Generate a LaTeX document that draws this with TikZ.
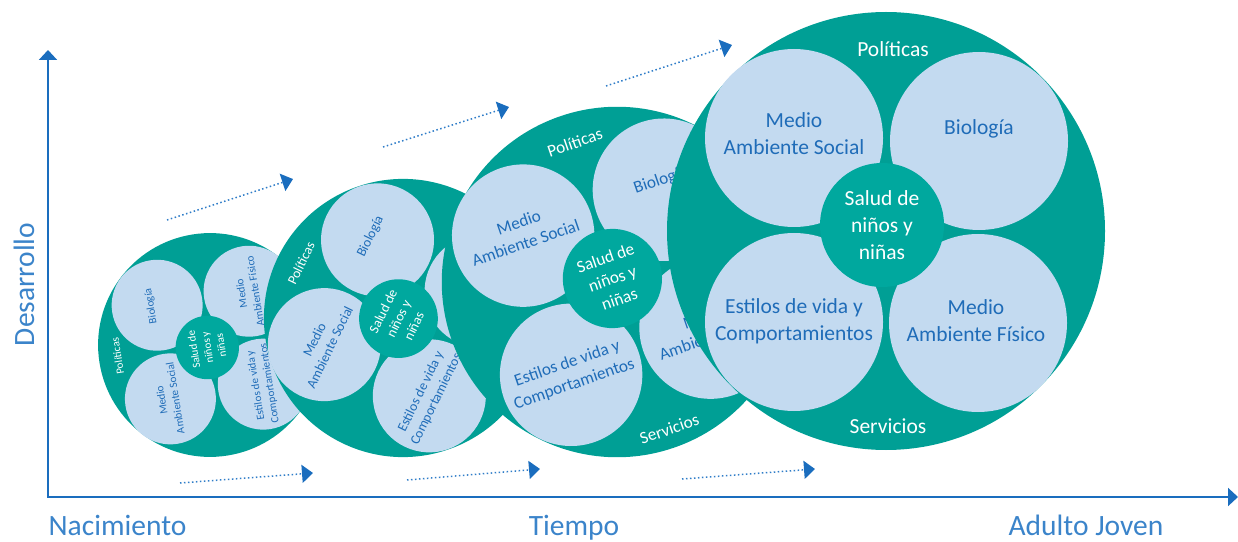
\documentclass[tikz,border=0pt]{standalone}
\usepackage{fontspec}
\setmainfont{Carlito}
\usetikzlibrary{arrows.meta}
\definecolor{ringteal}{HTML}{009F95}
\definecolor{coreteal}{HTML}{00A89E}
\definecolor{petalblue}{HTML}{C3DAF0}
\definecolor{petalink}{HTML}{1F6CB8}
\definecolor{axisblue}{HTML}{1A6DBE}
\definecolor{labelblue}{HTML}{3B84CA}
\definecolor{dotblue}{HTML}{2F7DC8}
\tikzset{
  ring/.style={circle, fill=ringteal, minimum size=438pt, inner sep=0pt},
  petal/.style={circle, fill=petalblue, minimum size=178pt, inner sep=0pt},
  core/.style={circle, fill=coreteal, minimum size=124pt, inner sep=0pt},
  petaltxt/.style={text=petalink, align=center, inner sep=0pt, font=\fontsize{21.5}{27}\selectfont},
  ringtxt/.style={text=white, align=center, inner sep=0pt, font=\fontsize{21.5}{27}\selectfont},
  axislabel/.style={text=labelblue, inner sep=0pt, font=\fontsize{29.5}{34}\selectfont},
  timearrow/.style={dotblue, line width=1.5pt, dash pattern=on 1.5pt off 2.5pt,
    -{Triangle[width=18pt, length=11pt, color=axisblue]}}
}
\begin{document}
\begin{tikzpicture}[x=1pt, y=1pt]
    \useasboundingbox (0,0) rectangle (1238,541);
    % the four stages, smallest first; each one covers part of the one before
    \foreach \g/\cx/\cy/\s/\r in {1/210/196/0.511/99, 2/403/223/0.635/64, 3/617/259/0.8/19, 4/886/310/1/0} {
      \begin{scope}[shift={(\cx,\cy)}, rotate=\r, scale=\s, transform shape]
        \node[ring] (ring\g) at (0,0) {};
        \node[petal] (social\g) at (-92,93) {};
        \node[petal] (bio\g) at (93,90) {};
        \node[petal] (estilos\g) at (-92,-91) {};
        \node[petal] (fisico\g) at (92,-92) {};
        \node[core] (core\g) at (-4,6) {};
        \node[petaltxt] (socialtxt\g) at (-92,97) {Medio\\Ambiente Social};
        \node[petaltxt] (biotxt\g) at (93,102) {Biología};
        \node[petaltxt] (estilostxt\g) at (-92,-90) {Estilos de vida y\\Comportamientos};
        \ifnum\g=2 \else
          \node[petaltxt] (fisicotxt\g) at (90,-90) {Medio\\Ambiente Físico};
        \fi
        \node[ringtxt] (coretxt\g) at (-4,6) {Salud de\\niños y\\niñas};
        \node[ringtxt] (pol\g) at (7,182) {Políticas};
        \ifnum\g>2
          \node[ringtxt] (serv\g) at (2,-195) {Servicios};
        \fi
      \end{scope}
    }
    % axes
    \coordinate (origin) at (48,44);
    \coordinate (ytip) at (48,491);
    \coordinate (xtip) at (1238,44);
    \draw[axisblue, line width=2pt, {Triangle[width=18pt,length=10pt]}-{Triangle[width=18pt,length=10pt]}] (ytip) -- (origin) -- (xtip);
    \node[axislabel, anchor=base] (birth) at (117.5,6) {Nacimiento};
    \node[axislabel, anchor=base] (time) at (574,6) {Tiempo};
    \node[axislabel, anchor=base] (adult) at (1086,6) {Adulto Joven};
    \node[axislabel, anchor=base, rotate=90] (devel) at (34,256.5) {Desarrollo};
    % dotted arrows between stages
    \coordinate (up1a) at (167,321);  \coordinate (up1b) at (293,362);
    \coordinate (up2a) at (383,394);  \coordinate (up2b) at (509,434);
    \coordinate (up3a) at (606,455);  \coordinate (up3b) at (732,496);
    \coordinate (lo1a) at (180,58);   \coordinate (lo1b) at (313,68);
    \coordinate (lo2a) at (407,61);   \coordinate (lo2b) at (540,72);
    \coordinate (lo3a) at (682,62);   \coordinate (lo3b) at (815,72);
    \foreach \a in {up1,up2,up3,lo1,lo2,lo3}
      \draw[timearrow] (\a a) -- (\a b);
\end{tikzpicture}
\end{document}
